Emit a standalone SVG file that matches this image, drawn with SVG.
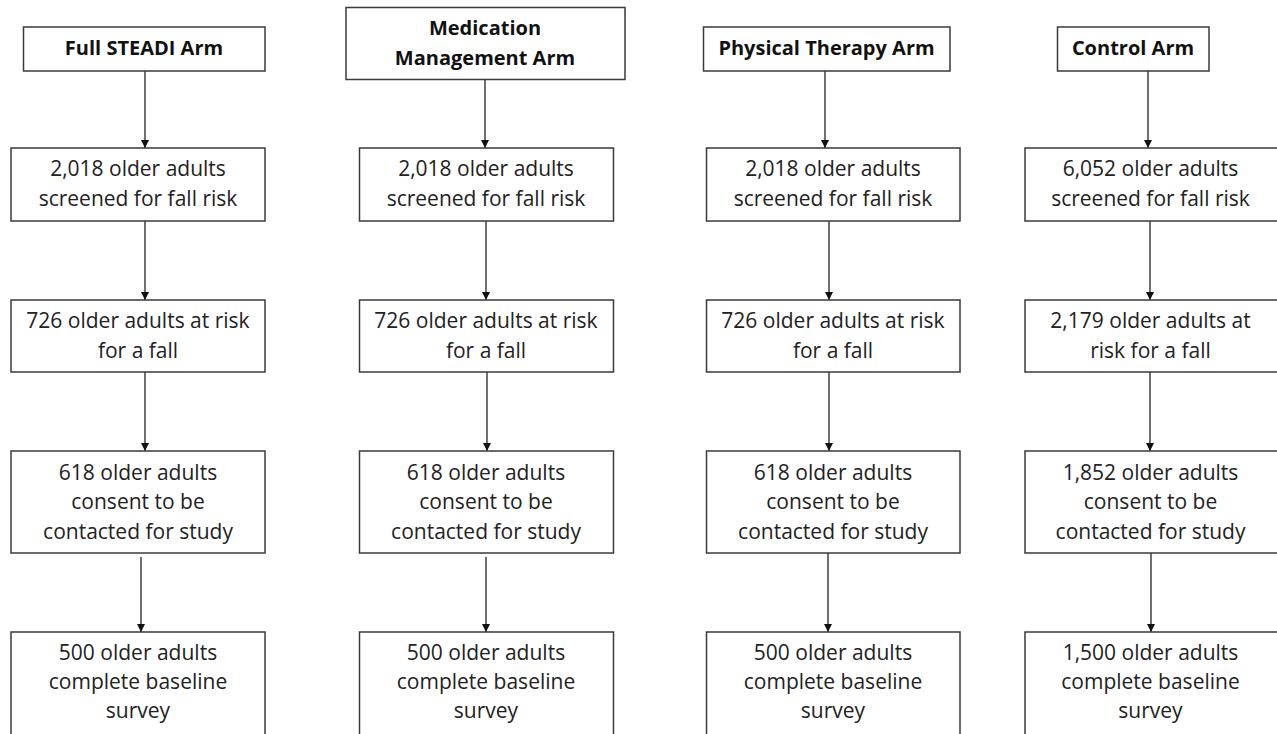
<svg xmlns="http://www.w3.org/2000/svg" width="1277" height="734" viewBox="0 0 1277 734">
<style>
.box{fill:#fff;stroke:#3a3a3a;stroke-width:1.5}
.t{font-family:"Open Sans","Liberation Sans",sans-serif;font-size:21px;fill:#222;text-anchor:middle}
.h{font-family:"Open Sans","Liberation Sans",sans-serif;font-size:20px;font-weight:bold;fill:#111;text-anchor:middle}
.c{stroke:#333;stroke-width:1.4;fill:none;marker-end:url(#ah)}
</style>
<defs>
<marker id="ah" markerUnits="userSpaceOnUse" markerWidth="9" markerHeight="9" refX="8" refY="4" orient="auto">
<path d="M0,0 L8,4 L0,8 z" fill="#111"/>
</marker>
</defs>
<rect width="1277" height="734" fill="#fff"/>
<g id="connectors">
<line class="c" x1="145" y1="71" x2="145" y2="148"/>
<line class="c" x1="145" y1="221" x2="145" y2="300"/>
<line class="c" x1="145" y1="372" x2="145" y2="451"/>
<line class="c" x1="141" y1="557" x2="141" y2="632"/>
<line class="c" x1="485" y1="79" x2="485" y2="148"/>
<line class="c" x1="486" y1="221" x2="486" y2="300"/>
<line class="c" x1="487" y1="372" x2="487" y2="451"/>
<line class="c" x1="486" y1="557" x2="486" y2="632"/>
<line class="c" x1="825" y1="71" x2="825" y2="148"/>
<line class="c" x1="829" y1="221" x2="829" y2="300"/>
<line class="c" x1="829" y1="372" x2="829" y2="451"/>
<line class="c" x1="828" y1="553" x2="828" y2="632"/>
<line class="c" x1="1148" y1="71" x2="1148" y2="148"/>
<line class="c" x1="1150" y1="221" x2="1150" y2="300"/>
<line class="c" x1="1150" y1="372" x2="1150" y2="451"/>
<line class="c" x1="1151" y1="553" x2="1151" y2="632"/>
</g>
<g id="h1"><rect class="box" x="23.5" y="27" width="241.5" height="44"/><text class="h" x="144" y="54.5">Full STEADI Arm</text></g>
<g id="h2"><rect class="box" x="346" y="7.5" width="279" height="72"/><text class="h" x="485" y="35">Medication</text><text class="h" x="485" y="65">Management Arm</text></g>
<g id="h3"><rect class="box" x="703.5" y="27" width="246.5" height="44"/><text class="h" x="826.5" y="54.5">Physical Therapy Arm</text></g>
<g id="h4"><rect class="box" x="1057.5" y="27" width="151.5" height="44"/><text class="h" x="1133" y="54.5">Control Arm</text></g>

<g id="c1b2"><rect class="box" x="11" y="148" width="254" height="73"/><text class="t" x="138" y="176">2,018 older adults</text><text class="t" x="138" y="206">screened for fall risk</text></g>
<g id="c1b3"><rect class="box" x="11" y="300" width="254" height="72"/><text class="t" x="138" y="328">726 older adults at risk</text><text class="t" x="138" y="358">for a fall</text></g>
<g id="c1b4"><rect class="box" x="11" y="451" width="254" height="102"/><text class="t" x="138" y="479.5">618 older adults</text><text class="t" x="138" y="509">consent to be</text><text class="t" x="138" y="538.5">contacted for study</text></g>
<g id="c1b5"><rect class="box" x="11" y="632" width="254" height="110"/><text class="t" x="138" y="660">500 older adults</text><text class="t" x="138" y="689">complete baseline</text><text class="t" x="138" y="718">survey</text></g>

<g id="c2b2"><rect class="box" x="359.5" y="148" width="254" height="73"/><text class="t" x="486" y="176">2,018 older adults</text><text class="t" x="486" y="206">screened for fall risk</text></g>
<g id="c2b3"><rect class="box" x="359.5" y="300" width="254" height="72"/><text class="t" x="486" y="328">726 older adults at risk</text><text class="t" x="486" y="358">for a fall</text></g>
<g id="c2b4"><rect class="box" x="359.5" y="451" width="254" height="102"/><text class="t" x="486" y="479.5">618 older adults</text><text class="t" x="486" y="509">consent to be</text><text class="t" x="486" y="538.5">contacted for study</text></g>
<g id="c2b5"><rect class="box" x="359.5" y="632" width="254" height="110"/><text class="t" x="486" y="660">500 older adults</text><text class="t" x="486" y="689">complete baseline</text><text class="t" x="486" y="718">survey</text></g>

<g id="c3b2"><rect class="box" x="706.5" y="148" width="253.5" height="73"/><text class="t" x="833" y="176">2,018 older adults</text><text class="t" x="833" y="206">screened for fall risk</text></g>
<g id="c3b3"><rect class="box" x="706.5" y="300" width="253.5" height="72"/><text class="t" x="833" y="328">726 older adults at risk</text><text class="t" x="833" y="358">for a fall</text></g>
<g id="c3b4"><rect class="box" x="706.5" y="451" width="253.5" height="102"/><text class="t" x="833" y="479.5">618 older adults</text><text class="t" x="833" y="509">consent to be</text><text class="t" x="833" y="538.5">contacted for study</text></g>
<g id="c3b5"><rect class="box" x="706.5" y="632" width="253.5" height="110"/><text class="t" x="833" y="660">500 older adults</text><text class="t" x="833" y="689">complete baseline</text><text class="t" x="833" y="718">survey</text></g>

<g id="c4b2"><rect class="box" x="1025" y="148" width="260" height="73"/><text class="t" x="1150.5" y="176">6,052 older adults</text><text class="t" x="1150.5" y="206">screened for fall risk</text></g>
<g id="c4b3"><rect class="box" x="1025" y="300" width="260" height="72"/><text class="t" x="1150.5" y="328">2,179 older adults at</text><text class="t" x="1150.5" y="358">risk for a fall</text></g>
<g id="c4b4"><rect class="box" x="1025" y="451" width="260" height="102"/><text class="t" x="1150.5" y="479.5">1,852 older adults</text><text class="t" x="1150.5" y="509">consent to be</text><text class="t" x="1150.5" y="538.5">contacted for study</text></g>
<g id="c4b5"><rect class="box" x="1025" y="632" width="260" height="110"/><text class="t" x="1150.5" y="660">1,500 older adults</text><text class="t" x="1150.5" y="689">complete baseline</text><text class="t" x="1150.5" y="718">survey</text></g>
</svg>
